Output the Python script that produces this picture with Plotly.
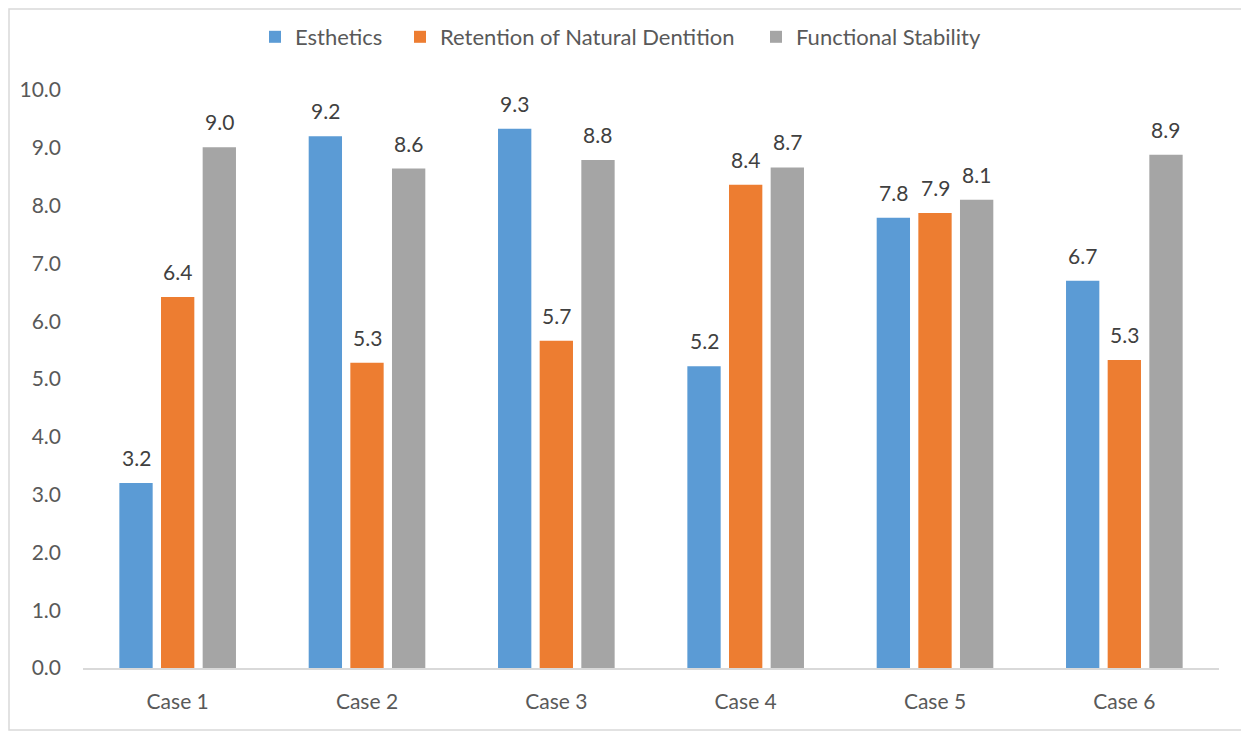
import plotly.graph_objects as go

categories = ["Case 1", "Case 2", "Case 3", "Case 4", "Case 5", "Case 6"]
esthetics = [3.2, 9.2, 9.33, 5.22, 7.79, 6.7]
retention = [6.42, 5.28, 5.66, 8.36, 7.87, 5.33]
functional = [9.01, 8.64, 8.79, 8.66, 8.1, 8.88]
series_names = ["Esthetics", "Retention of Natural Dentition", "Functional Stability"]
colors = ["#5B9BD5", "#ED7D31", "#A5A5A5"]
tick_vals = [0, 1, 2, 3, 4, 5, 6, 7, 8, 9, 10]

FONT = "Lato, 'Open Sans', sans-serif"
FS = 21
OFF = 8  # page body margin
W, H = 1249 - OFF, 731 - OFF
ML, MR, MT, MB = 83 - OFF, 30, 90 - OFF, 63
PW, PH = W - ML - MR, H - MT - MB
BARGAP = 0.34
# legend text start positions on the page (px)
legend_text_px = [295, 440, 796]

fig = go.Figure()
slot_px = (1 - BARGAP) * (PW / len(categories)) / 3
annotations = []
legend_ids = ["legend", "legend2", "legend3"]
legend_cfg = {}
for i, (name, vals, col) in enumerate(zip(series_names, [esthetics, retention, functional], colors)):
    fig.add_trace(go.Bar(
        x=categories, y=vals, name=name, legend=legend_ids[i],
        marker=dict(color=col, line=dict(width=0)),
    ))
    for c, v in zip(categories, vals):
        annotations.append(dict(
            x=c, y=v, xref="x", yref="y", text=f"{v:.1f}", showarrow=False,
            xshift=(i - 1) * slot_px, yshift=11, yanchor="bottom",
            font=dict(family=FONT, size=FS, color="#404040"),
        ))
    left_page = legend_text_px[i] - 40
    legend_cfg[legend_ids[i]] = dict(
        orientation="h", x=(left_page - 83) / PW, xanchor="left",
        y=(PH + 53) / PH, yanchor="middle", bgcolor="rgba(0,0,0,0)",
        font=dict(family=FONT, size=22, color="#595959"), itemwidth=30,
    )

fig.update_layout(
    width=W, height=H,
    margin=dict(l=ML, r=MR, t=MT, b=MB, autoexpand=False),
    paper_bgcolor="white", plot_bgcolor="white",
    barmode="group", bargap=BARGAP, bargroupgap=0.2,
    font=dict(family=FONT, size=FS, color="#595959"),
    showlegend=True,
    xaxis=dict(showline=True, linecolor="#D9D9D9", linewidth=1.5, ticks="", showgrid=False,
               ticklabelstandoff=14,
               tickfont=dict(family=FONT, size=FS, color="#595959")),
    yaxis=dict(range=[0, 10], tickvals=tick_vals, tickformat=".1f", showgrid=False,
               zeroline=False, showline=False, ticks="", ticklabelstandoff=21,
               tickfont=dict(family=FONT, size=FS, color="#595959")),
    annotations=annotations,
    shapes=[dict(type="rect", xref="paper", yref="paper",
                 x0=-(ML - 1) / PW, x1=(PW + MR - 1) / PW,
                 y0=-(MB - 1) / PH, y1=(PH + MT - 1) / PH,
                 line=dict(color="#D9D9D9", width=1.5), layer="below")],
    **legend_cfg,
)

fig.write_html("out.html")
